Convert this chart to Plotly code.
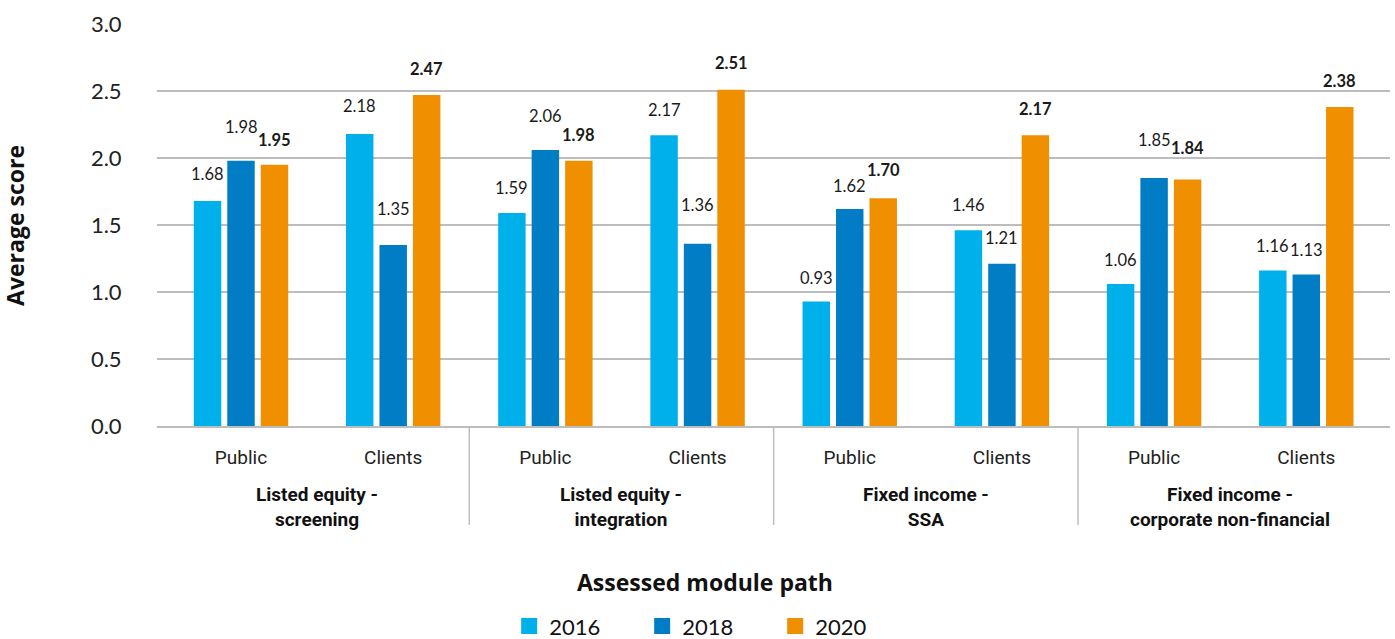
import plotly.graph_objects as go

# Values per assessed module path, split by audience
audiences = ["Public", "Clients", "Public", "Clients", "Public", "Clients", "Public", "Clients"]
module_paths = [
    "Listed equity -<br>screening",
    "Listed equity -<br>integration",
    "Fixed income -<br>SSA",
    "Fixed income -<br>corporate non-financial",
]
years = ["2016", "2018", "2020"]
score_2016 = [1.68, 2.18, 1.59, 2.17, 0.93, 1.46, 1.06, 1.16]
score_2018 = [1.98, 1.35, 2.06, 1.36, 1.62, 1.21, 1.85, 1.13]
score_2020 = [1.95, 2.47, 1.98, 2.51, 1.70, 2.17, 1.84, 2.38]
y_ticks = [0.0, 0.5, 1.0, 1.5, 2.0, 2.5, 3.0]

# Styling
colors = ["#00B0EA", "#007DC5", "#F08F00"]
label_lift = [  # pixel lift of each value label above its bar top
    [27, 28, 25, 25, 23, 25, 24, 25],
    [34, 36, 34, 39, 23, 26, 38, 25],
    [25, 26, 26, 27, 28, 26, 31, 26],
]
NUM_FONT = "Lato"
TXT_FONT = "Roboto"
TITLE_FONT = "Open Sans"
GRID = "#BDBDBD"
BARGAP = 0.34

series = [score_2016, score_2018, score_2020]
xpos = list(range(len(audiences)))

fig = go.Figure()
for name, vals, col in zip(years, series, colors):
    fig.add_trace(go.Bar(
        x=xpos, y=vals, name=name, marker=dict(color=col, line=dict(width=0)),
        showlegend=False, hoverinfo="y",
    ))
    # legend swatch
    fig.add_trace(go.Scatter(
        x=[None], y=[None], mode="markers", name=name,
        marker=dict(symbol="square", size=18, color=col),
    ))

# value labels above bars; 2020 in bold
slot = (1 - BARGAP) / len(years)
annotations = []
for i, vals in enumerate(series):
    for k, v in enumerate(vals):
        txt = f"{v:.2f}"
        if i == 2:
            txt = f"<b>{txt}</b>"
        annotations.append(dict(
            x=k + (i - 1) * slot, y=v, xref="x", yref="y", text=txt,
            showarrow=False, yanchor="middle", xanchor="center",
            yshift=label_lift[i][k],
            font=dict(family=NUM_FONT, size=16.5, color="#1a1a1a"),
        ))

# module path names under each pair of groups
for j, name in enumerate(module_paths):
    annotations.append(dict(
        x=2 * j + 0.5, y=0, xref="x", yref="paper", text=f"<b>{name}</b>",
        showarrow=False, yanchor="top", xanchor="center", yshift=-55,
        font=dict(family=TXT_FONT, size=19, color="#111111"),
    ))

# axis titles
annotations.append(dict(
    x=0.4444, y=-0.388, xref="paper", yref="paper", text="<b>Assessed module path</b>",
    showarrow=False, xanchor="center", yanchor="middle",
    font=dict(family=TITLE_FONT, size=23, color="#111111"),
))
annotations.append(dict(
    x=-0.1152, y=0.5, xref="paper", yref="paper", text="<b>Average score</b>",
    showarrow=False, xanchor="center", yanchor="middle", textangle=-90,
    font=dict(family=TITLE_FONT, size=23, color="#111111"),
))

# separators between module paths
shapes = []
for j in range(1, len(module_paths)):
    shapes.append(dict(
        type="line", xref="x", yref="paper", x0=2 * j - 0.5, x1=2 * j - 0.5,
        y0=0, y1=-0.246, line=dict(color=GRID, width=1.5),
    ))

fig.update_layout(
    width=1395, height=639,
    margin=dict(l=157, r=5, t=24, b=213),
    paper_bgcolor="white", plot_bgcolor="white",
    barmode="group", bargap=BARGAP, bargroupgap=0.18,
    annotations=annotations, shapes=shapes,
    legend=dict(
        orientation="h", xref="container", yref="container",
        x=0.508, xanchor="center", y=0.02, yanchor="middle",
        font=dict(family=NUM_FONT, size=22, color="#111111"),
        entrywidth=88, entrywidthmode="pixels", itemsizing="trace",
        bgcolor="rgba(0,0,0,0)",
    ),
    xaxis=dict(
        range=[-0.552, 7.55], tickmode="array", tickvals=xpos, ticktext=audiences,
        ticks="outside", ticklen=13, tickcolor="rgba(0,0,0,0)",
        tickfont=dict(family=TXT_FONT, size=19, color="#222222"),
        showgrid=False, zeroline=False, showline=True, linecolor=GRID, linewidth=1.5,
        fixedrange=True,
    ),
    yaxis=dict(
        range=[0, 3.0], tickmode="array", tickvals=y_ticks, tickformat=".1f",
        ticks="outside", ticklen=30, tickcolor="rgba(0,0,0,0)",
        tickfont=dict(family=NUM_FONT, size=22, color="#222222"),
        showgrid=True, gridcolor=GRID, gridwidth=1.5, zeroline=False,
        showline=False, fixedrange=True,
    ),
)

fig.write_html("out.html")
